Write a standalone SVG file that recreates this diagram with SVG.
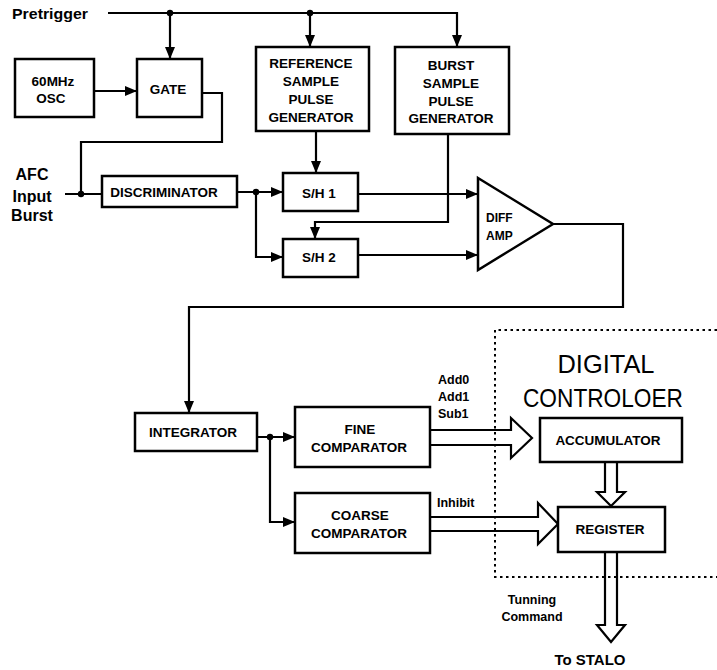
<svg xmlns="http://www.w3.org/2000/svg" width="717" height="670" viewBox="0 0 717 670">
<defs>
<style>
.box{fill:#fff;stroke:#000;stroke-width:2.5}
.w{fill:none;stroke:#000;stroke-width:2.2}
.h{fill:#fff;stroke:#000;stroke-width:2.2;stroke-linejoin:miter}
.t{font-family:"Liberation Sans",Arial,sans-serif;font-weight:bold;font-size:13.5px;fill:#000;text-anchor:middle}
.s{font-family:"Liberation Sans",Arial,sans-serif;font-weight:bold;font-size:12.5px;fill:#000}
.big{font-family:"Liberation Sans",Arial,sans-serif;font-size:26px;fill:#000;text-anchor:middle}
.dot{fill:#000}
</style>
<marker id="a" markerUnits="userSpaceOnUse" markerWidth="12" markerHeight="10" refX="12" refY="5" orient="auto">
<path d="M0,0 L12,5 L0,10 z" fill="#000"/>
</marker>
</defs>
<rect width="717" height="670" fill="#fff"/>

<g id="connectors">
<path class="w" d="M108,13 H457 V47" marker-end="url(#a)"/>
<path class="w" d="M170,13 V59" marker-end="url(#a)"/>
<path class="w" d="M310,13 V47" marker-end="url(#a)"/>
<path class="w" d="M94,91 H137" marker-end="url(#a)"/>
<path class="w" d="M202,93 H222 V142 H81 V194"/>
<path class="w" d="M65,194 H102"/>
<path class="w" d="M237,192 H283" marker-end="url(#a)"/>
<path class="w" d="M256,192 V257 H283" marker-end="url(#a)"/>
<path class="w" d="M316,131 V173" marker-end="url(#a)"/>
<path class="w" d="M448,134 V222 H315 V239" marker-end="url(#a)"/>
<path class="w" d="M358,194 H478" marker-end="url(#a)"/>
<path class="w" d="M358,255 H478" marker-end="url(#a)"/>
<path class="w" d="M553,224 H623 V307 H189 V413" marker-end="url(#a)"/>
<path class="w" d="M257,437 H295" marker-end="url(#a)"/>
<path class="w" d="M270,437 V522 H295" marker-end="url(#a)"/>
<path class="h" d="M430,430 H511 V418 L532,438 L511,458 V445 H430"/>
<path class="h" d="M430,517 H538 V503 L558,524 L538,544 V531 H430"/>
<path class="h" d="M605,462 V492 H597 L611,506 L625,492 H617 V462"/>
<path class="h" d="M605,552 V625 H597 L611,642 L625,625 H617 V552"/>
<circle class="dot" cx="170" cy="13" r="3.2"/>
<circle class="dot" cx="310" cy="13" r="3.2"/>
<circle class="dot" cx="81" cy="194" r="3.2"/>
<circle class="dot" cx="256" cy="192" r="3.2"/>
<circle class="dot" cx="270" cy="437" r="3.2"/>
</g>

<g id="labels">
<text class="s" x="12" y="19" style="font-size:15px" textLength="76" lengthAdjust="spacingAndGlyphs">Pretrigger</text>
<text class="t" x="32" y="180" style="font-size:16px">AFC</text>
<text class="t" x="32" y="202" style="font-size:16px">Input</text>
<text class="t" x="32" y="221" style="font-size:16px">Burst</text>
<text class="s" x="438" y="384">Add0</text>
<text class="s" x="438" y="401">Add1</text>
<text class="s" x="438" y="418">Sub1</text>
<text class="s" x="437" y="507">Inhibit</text>
<text class="s" x="532" y="604" style="text-anchor:middle">Tunning</text>
<text class="s" x="532" y="621" style="text-anchor:middle">Command</text>
<text class="t" x="590" y="665" style="font-size:15px">To STALO</text>
</g>

<g id="osc">
<rect class="box" x="15" y="59" width="79" height="58"/>
<text class="t" x="53" y="86">60MHz</text>
<text class="t" x="51" y="103">OSC</text>
</g>
<g id="gate">
<rect class="box" x="137" y="59" width="65" height="58"/>
<text class="t" x="168" y="94">GATE</text>
</g>
<g id="reference">
<rect class="box" x="256" y="47" width="113" height="84"/>
<text class="t" x="311" y="68">REFERENCE</text>
<text class="t" x="311" y="86">SAMPLE</text>
<text class="t" x="311" y="104">PULSE</text>
<text class="t" x="311" y="122">GENERATOR</text>
</g>
<g id="burst">
<rect class="box" x="395" y="47" width="114" height="87"/>
<text class="t" x="451" y="70">BURST</text>
<text class="t" x="451" y="88">SAMPLE</text>
<text class="t" x="451" y="106">PULSE</text>
<text class="t" x="451" y="123">GENERATOR</text>
</g>
<g id="discriminator">
<rect class="box" x="102" y="176" width="135" height="31"/>
<text class="t" x="164" y="197">DISCRIMINATOR</text>
</g>
<g id="sh1">
<rect class="box" x="283" y="173" width="75" height="38"/>
<text class="t" x="319" y="198">S/H 1</text>
</g>
<g id="sh2">
<rect class="box" x="283" y="239" width="75" height="38"/>
<text class="t" x="319" y="262">S/H 2</text>
</g>
<g id="diffamp">
<polygon class="box" points="478,178 553,224 478,270"/>
<text class="s" x="486" y="222" style="font-size:12px">DIFF</text>
<text class="s" x="486" y="240" style="font-size:12px">AMP</text>
</g>
<g id="integrator">
<rect class="box" x="135" y="413" width="122" height="38"/>
<text class="t" x="193" y="437">INTEGRATOR</text>
</g>
<g id="fine">
<rect class="box" x="295" y="407" width="135" height="60"/>
<text class="t" x="360" y="434">FINE</text>
<text class="t" x="359" y="452">COMPARATOR</text>
</g>
<g id="coarse">
<rect class="box" x="295" y="493" width="135" height="60"/>
<text class="t" x="360" y="520">COARSE</text>
<text class="t" x="359" y="538">COMPARATOR</text>
</g>
<g id="digital">
<path d="M717,330 H495 V577 H717" fill="none" stroke="#000" stroke-width="2" stroke-dasharray="2.5 3.5"/>
<text class="big" x="606" y="373" textLength="97" lengthAdjust="spacingAndGlyphs">DIGITAL</text>
<text class="big" x="603" y="407" textLength="160" lengthAdjust="spacingAndGlyphs">CONTROLOER</text>
</g>
<g id="accumulator">
<rect class="box" x="540" y="418" width="142" height="44"/>
<text class="t" x="608" y="445">ACCUMULATOR</text>
</g>
<g id="register">
<rect class="box" x="558" y="507" width="107" height="45"/>
<text class="t" x="610" y="534">REGISTER</text>
</g>
</svg>
